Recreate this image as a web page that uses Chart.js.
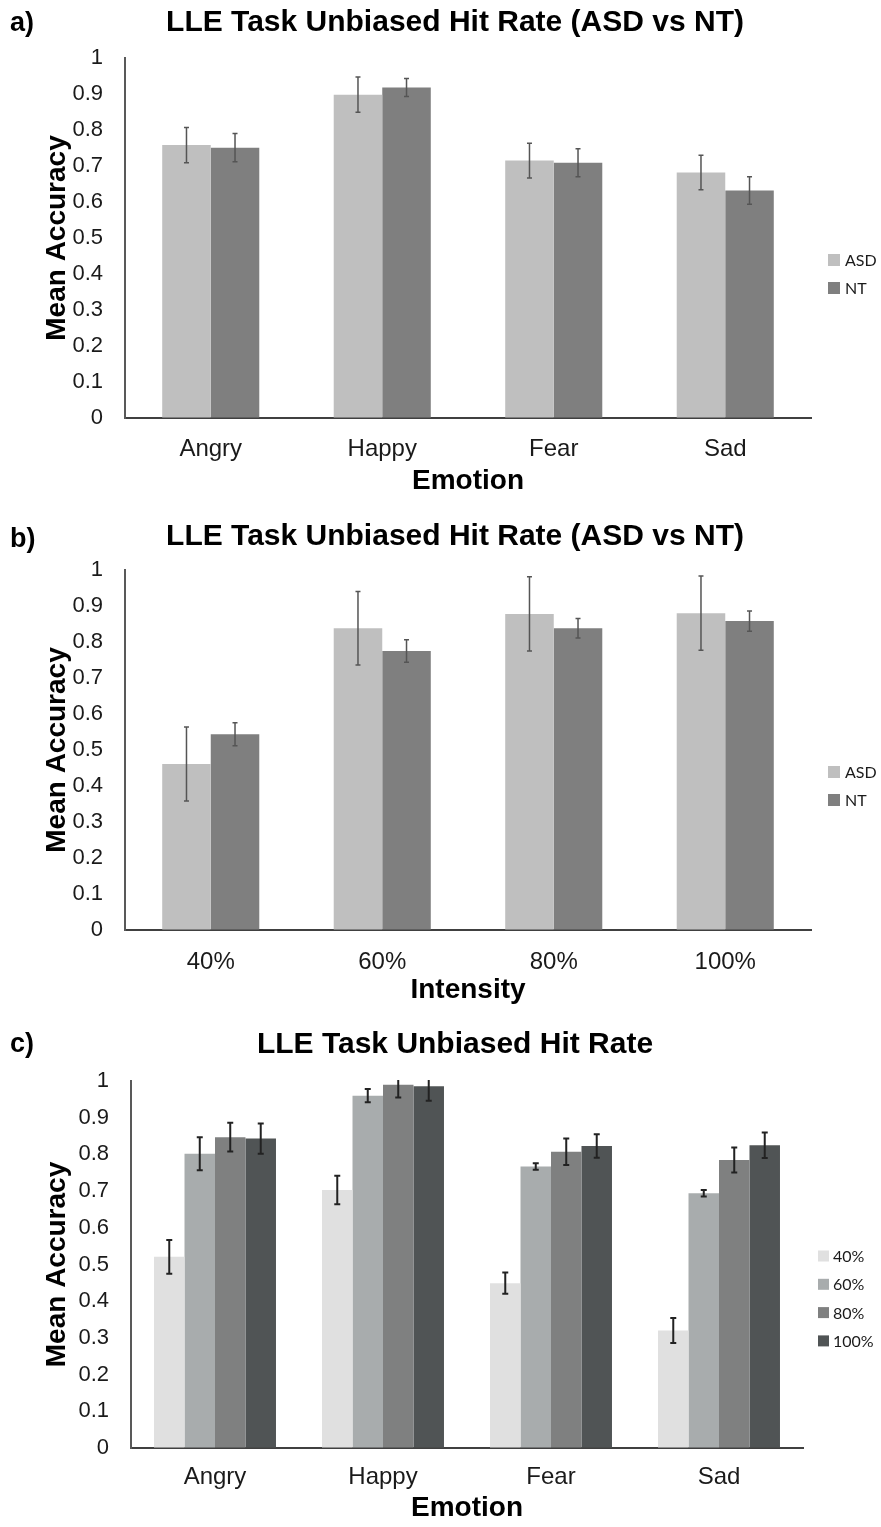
<!DOCTYPE html>
<html>
<head>
<meta charset="utf-8">
<script src="https://cdn.jsdelivr.net/npm/chart.js@4.4.1/dist/chart.umd.min.js"></script>
<style>
  html, body { margin: 0; padding: 0; background: #fff; }
  .panel { position: absolute; left: 0; }
</style>
</head>
<body>
<div class="panel" style="top:0px"><canvas id="chartA" width="881" height="512"></canvas></div>
<div class="panel" style="top:512px"><canvas id="chartB" width="881" height="512"></canvas></div>
<div class="panel" style="top:1024px"><canvas id="chartC" width="881" height="503"></canvas></div>
<script>
const emotions = ["Angry", "Happy", "Fear", "Sad"];
const intensities = ["40%", "60%", "80%", "100%"];
const yTickLabels = ["0", "0.1", "0.2", "0.3", "0.4", "0.5", "0.6", "0.7", "0.8", "0.9", "1"];

// a) ASD vs NT by emotion
const asdByEmotion = [0.758, 0.898, 0.715, 0.682];
const asdByEmotionErr = [0.049, 0.049, 0.048, 0.048];
const ntByEmotion = [0.751, 0.918, 0.709, 0.632];
const ntByEmotionErr = [0.039, 0.025, 0.039, 0.038];

// b) ASD vs NT by intensity
const asdByIntensity = [0.461, 0.838, 0.878, 0.880];
const asdByIntensityErr = [0.103, 0.102, 0.103, 0.103];
const ntByIntensity = [0.544, 0.775, 0.838, 0.858];
const ntByIntensityErr = [0.032, 0.031, 0.027, 0.028];

// c) all participants, emotion x intensity
const hit40 = [0.521, 0.703, 0.449, 0.320];
const hit40Err = [0.046, 0.039, 0.029, 0.034];
const hit60 = [0.802, 0.960, 0.767, 0.694];
const hit60Err = [0.045, 0.018, 0.009, 0.009];
const hit80 = [0.847, 0.990, 0.807, 0.785];
const hit80Err = [0.039, 0.035, 0.036, 0.034];
const hit100 = [0.843, 0.986, 0.823, 0.825];
const hit100Err = [0.041, 0.040, 0.032, 0.035];

const FONT = "'Liberation Sans', Arial, sans-serif";
Chart.defaults.font.family = FONT;
Chart.defaults.color = "#1a1a1a";

// error bars drawn at each bar's centre, clipped to the plot area
const errorBars = {
  id: "errorBars",
  afterDatasetsDraw(chart, args, opts) {
    const { ctx, chartArea } = chart;
    const y = chart.scales.y;
    ctx.save();
    ctx.beginPath();
    ctx.rect(chartArea.left, chartArea.top - 1, chartArea.right - chartArea.left, chartArea.bottom - chartArea.top + 1);
    ctx.clip();
    ctx.strokeStyle = opts.color;
    ctx.lineWidth = opts.width;
    chart.data.datasets.forEach((ds, i) => {
      const meta = chart.getDatasetMeta(i);
      meta.data.forEach((bar, j) => {
        const v = ds.data[j], e = ds.errors[j];
        const top = y.getPixelForValue(v + e);
        const bot = y.getPixelForValue(v - e);
        ctx.beginPath();
        ctx.moveTo(bar.x, top);
        ctx.lineTo(bar.x, bot);
        ctx.moveTo(bar.x - opts.cap, top);
        ctx.lineTo(bar.x + opts.cap, top);
        ctx.moveTo(bar.x - opts.cap, bot);
        ctx.lineTo(bar.x + opts.cap, bot);
        ctx.stroke();
      });
    });
    ctx.restore();
  },
};

// legend to the right of the plot, Excel style
const sideLegend = {
  id: "sideLegend",
  afterDraw(chart, args, opts) {
    const { ctx } = chart;
    ctx.save();
    ctx.font = opts.font;
    ctx.textBaseline = "middle";
    chart.data.datasets.forEach((ds, i) => {
      const cy = opts.y + i * opts.step;
      ctx.fillStyle = ds.backgroundColor;
      ctx.fillRect(opts.x, cy - opts.box / 2, opts.box, opts.box);
      ctx.fillStyle = "#1a1a1a";
      ctx.fillText(ds.label, opts.x + opts.box + opts.gap, cy + 1);
    });
    ctx.restore();
  },
};

const panelTag = {
  id: "panelTag",
  afterDraw(chart, args, opts) {
    const { ctx } = chart;
    ctx.save();
    ctx.font = "bold 27px " + FONT;
    ctx.fillStyle = "#000";
    ctx.textBaseline = "middle";
    ctx.fillText(opts.text, opts.x, opts.y);
    ctx.restore();
  },
};

function makeChart(id, p) {
  return new Chart(document.getElementById(id), {
    type: "bar",
    data: { labels: p.labels, datasets: p.datasets },
    plugins: [errorBars, sideLegend, panelTag],
    options: {
      responsive: false,
      animation: false,
      layout: { padding: { left: 29, right: 0, top: 0, bottom: 0 } },
      datasets: { bar: { categoryPercentage: p.catPct, barPercentage: 1, borderWidth: 0 } },
      plugins: {
        legend: { display: false },
        tooltip: { enabled: false },
        title: {
          display: true,
          text: p.title,
          color: "#000",
          font: { size: 30, weight: "bold" },
          padding: { top: p.titleTop, bottom: p.titleBottom },
        },
        errorBars: p.err,
        sideLegend: p.legend,
        panelTag: p.tag,
      },
      scales: {
        x: {
          grid: { display: true, drawOnChartArea: false, drawTicks: false },
          border: { color: "#404040", width: 2 },
          ticks: { font: { size: 24 }, padding: p.xTickPad, color: "#1a1a1a" },
          title: { display: true, text: p.xTitle, color: "#000", font: { size: 28, weight: "bold" }, padding: { top: 0, bottom: p.xTitlePad } },
          afterFit: (s) => { s.height = p.xHeight; },
        },
        y: {
          min: 0,
          max: 1,
          grid: { display: true, drawOnChartArea: false, drawTicks: false },
          border: { color: "#595959", width: 2 },
          ticks: {
            stepSize: 0.1,
            font: { size: 22 },
            padding: 22,
            color: "#1a1a1a",
            callback: (v) => yTickLabels[Math.round(v * 10)],
          },
          title: { display: true, text: "Mean Accuracy", color: "#000", font: { size: 28, weight: "bold" }, padding: { top: 11, bottom: 0 } },
          afterFit: (s) => { s.width = p.yWidth; },
        },
        pad: {
          type: "linear",
          position: "right",
          display: true,
          grid: { display: false },
          border: { display: false },
          ticks: { display: false },
          afterFit: (s) => { s.width = p.rightSpace; },
        },
      },
    },
  });
}

const errAB = { color: "#555555", width: 1.5, cap: 2.5 };
const errC = { color: "#222222", width: 2, cap: 3 };

makeChart("chartA", {
  labels: emotions,
  title: "LLE Task Unbiased Hit Rate (ASD vs NT)",
  xTitle: "Emotion",
  datasets: [
    { label: "ASD", data: asdByEmotion, errors: asdByEmotionErr, backgroundColor: "#bfbfbf" },
    { label: "NT", data: ntByEmotion, errors: ntByEmotionErr, backgroundColor: "#7f7f7f" },
  ],
  catPct: 0.566,
  titleTop: 5, titleBottom: 17,
  xTickPad: 16.6, xTitlePad: 14, xHeight: 94,
  yWidth: 96, rightSpace: 70,
  err: errAB,
  legend: { x: 828, y: 260, step: 28, box: 12, gap: 5, font: "16px Lato" },
  tag: { text: "a)", x: 10, y: 24 },
});

makeChart("chartB", {
  labels: intensities,
  title: "LLE Task Unbiased Hit Rate (ASD vs NT)",
  xTitle: "Intensity",
  datasets: [
    { label: "ASD", data: asdByIntensity, errors: asdByIntensityErr, backgroundColor: "#bfbfbf" },
    { label: "NT", data: ntByIntensity, errors: ntByIntensityErr, backgroundColor: "#7f7f7f" },
  ],
  catPct: 0.566,
  titleTop: 7, titleBottom: 15,
  xTickPad: 17.6, xTitlePad: 17, xHeight: 94,
  yWidth: 96, rightSpace: 70,
  err: errAB,
  legend: { x: 828, y: 260, step: 28, box: 12, gap: 5, font: "16px Lato" },
  tag: { text: "b)", x: 10, y: 28 },
});

makeChart("chartC", {
  labels: emotions,
  title: "LLE Task Unbiased Hit Rate",
  xTitle: "Emotion",
  datasets: [
    { label: "40%", data: hit40, errors: hit40Err, backgroundColor: "#e0e0e0" },
    { label: "60%", data: hit60, errors: hit60Err, backgroundColor: "#a8acad" },
    { label: "80%", data: hit80, errors: hit80Err, backgroundColor: "#7f8080" },
    { label: "100%", data: hit100, errors: hit100Err, backgroundColor: "#505455" },
  ],
  catPct: 0.726,
  titleTop: 3, titleBottom: 18,
  xTickPad: 14.6, xTitlePad: 2, xHeight: 79,
  yWidth: 102, rightSpace: 78,
  err: errC,
  legend: { x: 818, y: 232, step: 28.3, box: 11, gap: 4, font: "16px Lato" },
  tag: { text: "c)", x: 10, y: 21 },
});
</script>
</body>
</html>
